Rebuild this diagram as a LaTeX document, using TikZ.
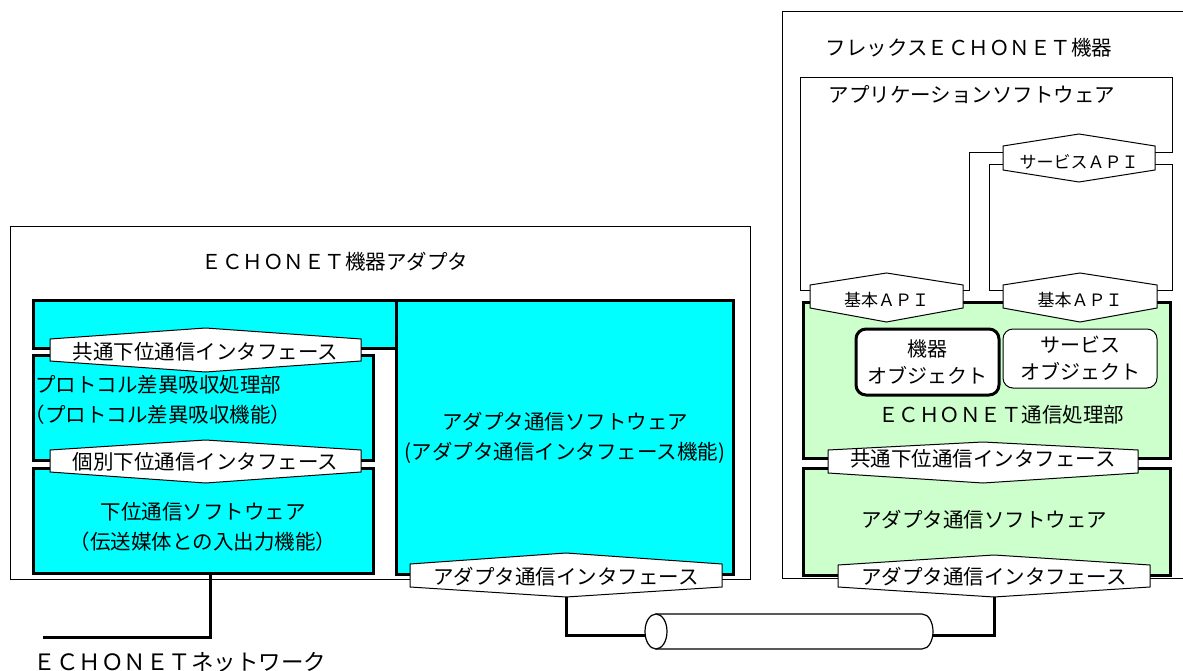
\documentclass[tikz,border=0pt]{standalone}
\usepackage{fontspec}
\setmainfont{Noto Sans CJK JP}
\definecolor{ecCyan}{HTML}{00FFFF}
\definecolor{ecGreen}{HTML}{CCFFCC}
\tikzset{
 every node/.style={inner sep=0pt, outer sep=0pt},
 lbl/.style={font=\fontsize{20.5}{30}\selectfont, align=center},
 objlbl/.style={font=\fontsize{20}{27}\selectfont, align=center},
 thinbox/.style={draw, line width=1pt, fill=white},
 cyanbox/.style={draw, line width=3pt, fill=ecCyan},
 greenbox/.style={draw, line width=3pt, fill=ecGreen},
 hexstyle/.style={draw, fill=white, line width=1pt},
 wire/.style={draw, line width=3pt},
}
% style, name, x1, y1, x2, y2, text
\newcommand{\mkbox}[7]{%
 \node[#1, minimum width={(#5-#3)*1pt}, minimum height={(#6-#4)*1pt}] (#2)
   at ({(#3+#5)/2},{(#4+#6)/2}) {#7};}
% name, xl, xr, ytop, yc1, yc2, ybot, ytext, text
\newcommand{\hexshape}[9]{%
 \draw[hexstyle] (#2,#5) -- ({(#2+#3)/2},#4) -- (#3,#5) -- (#3,#6) -- ({(#2+#3)/2},#7) -- (#2,#6) -- cycle;
 \coordinate (#1-top) at ({(#2+#3)/2},#4);
 \coordinate (#1-bot) at ({(#2+#3)/2},#7);
 \node[lbl] (#1) at ({(#2+#3)/2},#8) {#9};}
\begin{document}
\begin{tikzpicture}[x=1pt,y=-1pt]
\useasboundingbox (0,0) rectangle (1183,671);
\clip (0,0) rectangle (1183,671);
% ---------------- left: adapter ----------------
\mkbox{thinbox}{outerL}{10}{227}{750}{579}{}
\node[lbl] (titleL) at (335,262) {ＥＣＨＯＮＥＴ機器アダプタ};
\mkbox{cyanbox}{band}{33}{300}{396}{348}{}
\mkbox{cyanbox}{proto}{33}{355}{373}{460}{}
\mkbox{cyanbox}{lowsw}{33}{468}{373}{573}{}
\mkbox{cyanbox}{adsw}{396}{300}{733}{574}{}
\node[lbl] (adswtxt) at (565,438) {アダプタ通信ソフトウェア\\(アダプタ通信インタフェース機能)};
\node[lbl] (prototxt) at (158,400) {プロトコル差異吸収処理部\\（プロトコル差異吸収機能）};
\node[lbl] (lowswtxt) at (203,527) {下位通信ソフトウェア\\（伝送媒体との入出力機能）};
\hexshape{hcomL}{50}{361}{328}{339}{361}{372}{352}{共通下位通信インタフェース}
\hexshape{hind}{50}{361}{440}{450}{472}{483}{462}{個別下位通信インタフェース}
% network
\coordinate (netEnd) at (43,637);
\draw[wire] ([xshift=7pt]lowsw.south) |- (netEnd);
\node[lbl, font=\fontsize{22.5}{26}\selectfont] (netlbl) at (180,662) {ＥＣＨＯＮＥＴネットワーク};
% ---------------- right: flex device ----------------
\mkbox{thinbox}{outerR}{782}{12}{1200}{578}{}
\node[lbl] (titleR) at (969,48) {フレックスＥＣＨＯＮＥＴ機器};
\draw[thinbox] (800,78) -- (1172,78) -- (1172,153) -- (969,153) -- (969,290) -- (800,290) -- cycle;
\node[lbl] (applbl) at (972,95) {アプリケーションソフトウェア};
\draw[thinbox] (989,165) -- (1172,165) -- (1172,290) -- (989,290) -- cycle;
\mkbox{greenbox}{echo}{803}{302}{1170}{458}{}
\mkbox{greenbox}{adswR}{803}{468}{1170}{575}{}
\node[lbl] (echolbl) at (1001,415) {ＥＣＨＯＮＥＴ通信処理部};
\node[lbl] (adswRlbl) at (984,520) {アダプタ通信ソフトウェア};
\node[draw, fill=white, line width=3pt, rounded corners=10pt, minimum width=143pt, minimum height=66pt,
      objlbl] (kiki) at (927.5,362) {機器\\オブジェクト};
\node[draw, fill=white, line width=1pt, rounded corners=10pt, minimum width=154pt, minimum height=59pt,
      objlbl] (svcobj) at (1080,358.5) {サービス\\オブジェクト};
\hexshape{hsvc}{1003}{1155}{134}{146}{170}{182}{162}{\fontsize{17}{20}\selectfont サービスＡＰＩ}
\hexshape{hb1}{810}{963}{273}{285}{308}{322}{300}{\fontsize{17}{20}\selectfont 基本ＡＰＩ}
\hexshape{hb2}{1003}{1157}{273}{285}{308}{322}{300}{\fontsize{17}{20}\selectfont 基本ＡＰＩ}
\hexshape{hcomR}{828}{1138}{442}{450}{473}{483}{459}{共通下位通信インタフェース}
% ---------------- adapter interfaces and cable ----------------
\coordinate (cylL) at (645,635);
\coordinate (cylR) at (933,635);
\hexshape{hadL}{410}{722}{553}{564}{587}{597}{577}{アダプタ通信インタフェース}
\hexshape{hadR}{838}{1150}{555}{565}{587}{597}{577}{アダプタ通信インタフェース}
\draw[wire] (hadL-bot) |- (cylL);
\draw[wire] (cylR) -| (hadR-bot);
\draw[line width=1.2pt, fill=white] (656,614) -- (922,614)
  .. controls (929,614) and (933,623) .. (933,631.5)
  .. controls (933,640) and (929,649) .. (922,649) -- (656,649) -- cycle;
\draw[line width=1.2pt, fill=white] (656,631.5) ellipse [x radius=11pt, y radius=17.5pt];
\end{tikzpicture}
\end{document}
